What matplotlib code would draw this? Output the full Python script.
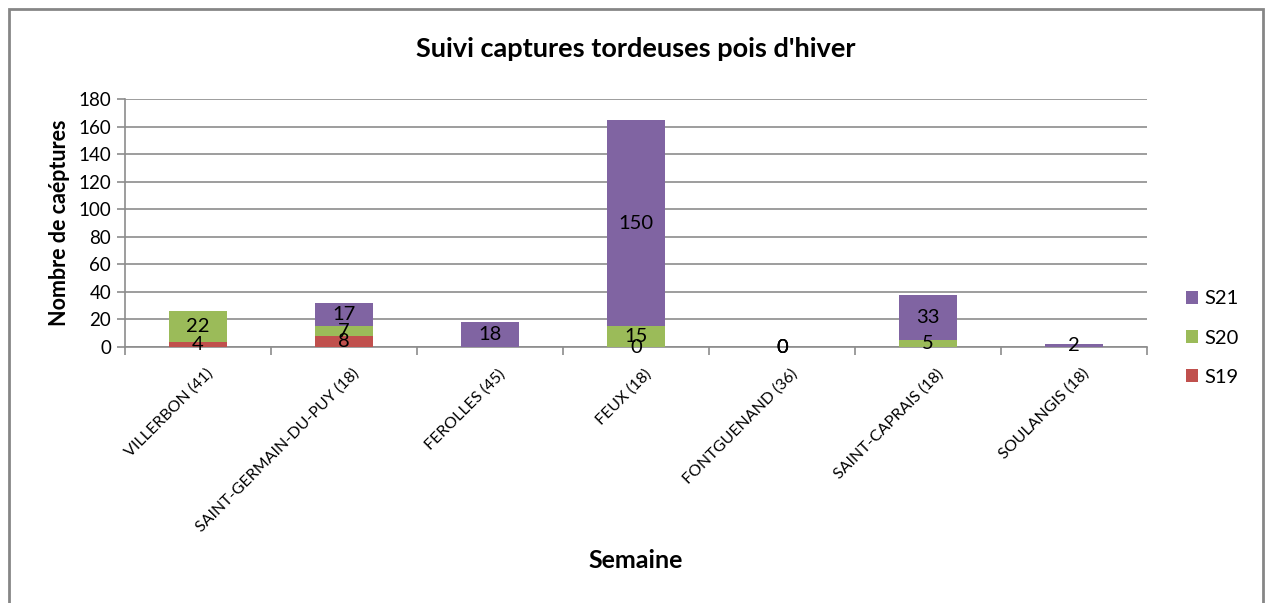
import numpy as np
import matplotlib.pyplot as plt
from matplotlib.patches import Rectangle

plt.rcParams['font.family'] = ['Lato', 'DejaVu Sans']

# sites and weekly catches (None = no value shown)
sites = ['VILLERBON (41)', 'SAINT-GERMAIN-DU-PUY (18)', 'FEROLLES (45)', 'FEUX (18)',
         'FONTGUENAND (36)', 'SAINT-CAPRAIS (18)', 'SOULANGIS (18)']
s19 = [4, 8, None, 0, 0, None, None]
s20 = [22, 7, None, 15, 0, 5, None]
s21 = [None, 17, 18, 150, 0, 33, 2]

series = [('S19', s19, '#C0504D'), ('S20', s20, '#9BBB59'), ('S21', s21, '#8064A2')]

fig = plt.figure(figsize=(12.68, 6.03), dpi=100)
ax = fig.add_axes([0.0986, 0.4245, 0.806, 0.4113])

x = np.arange(len(sites))
bottom = np.zeros(len(sites))
bars = {}
for name, vals, col in series:
    v = np.array([0 if a is None else a for a in vals], dtype=float)
    bars[name] = ax.bar(x, v, 0.4, bottom=bottom, color=col, label=name, zorder=3)
    for i, a in enumerate(vals):
        if a is not None:
            ax.text(x[i], bottom[i] + a / 2, str(a), ha='center', va='center',
                    fontsize=14.5, color='black', zorder=4)
    bottom = bottom + v

ax.set_xlim(-0.5, len(sites) - 0.5)
ax.set_ylim(0, 180)
ax.set_yticks(range(0, 181, 20))
ax.yaxis.grid(True, color='#8c8c8c', linewidth=1.2, zorder=0)
ax.set_axisbelow(True)

# label anchors sit slightly right of the bar centre, like the original
ax.set_xticks(x + 0.055)
ax.set_xticklabels(sites, rotation=45, ha='right', rotation_mode='anchor', fontsize=11.5)
ax.set_xticks(np.arange(-0.5, len(sites)), minor=True)
ax.tick_params(axis='x', which='major', length=0, pad=14)
ax.tick_params(axis='x', which='minor', length=6, color='#8c8c8c', width=1.2)
ax.tick_params(axis='y', length=6, color='#8c8c8c', width=1.2, labelsize=13.5, pad=4)

for s in ['top', 'right']:
    ax.spines[s].set_visible(False)
for s in ['left', 'bottom']:
    ax.spines[s].set_color('#8c8c8c')
    ax.spines[s].set_linewidth(1.2)

ax.set_title("Suivi captures tordeuses pois d'hiver", fontsize=19.5, fontweight='bold', pad=30)
ax.set_ylabel('Nombre de caéptures', fontsize=15.5, fontweight='bold', labelpad=6)
ax.set_xlabel('Semaine', fontsize=18, fontweight='bold', labelpad=10)

handles = [bars['S21'], bars['S20'], bars['S19']]
leg = ax.legend(handles, ['S21', 'S20', 'S19'], loc='center left',
                bbox_to_anchor=(1.02, 0.036), frameon=False, fontsize=14.5,
                handlelength=0.6, handleheight=0.6, handletextpad=0.35, labelspacing=1.1)

fig.patches.append(Rectangle((0.007, -0.01), 0.989, 0.995, transform=fig.transFigure,
                             fill=False, edgecolor='#868686', linewidth=2))

fig.savefig('out.png', dpi=100)
